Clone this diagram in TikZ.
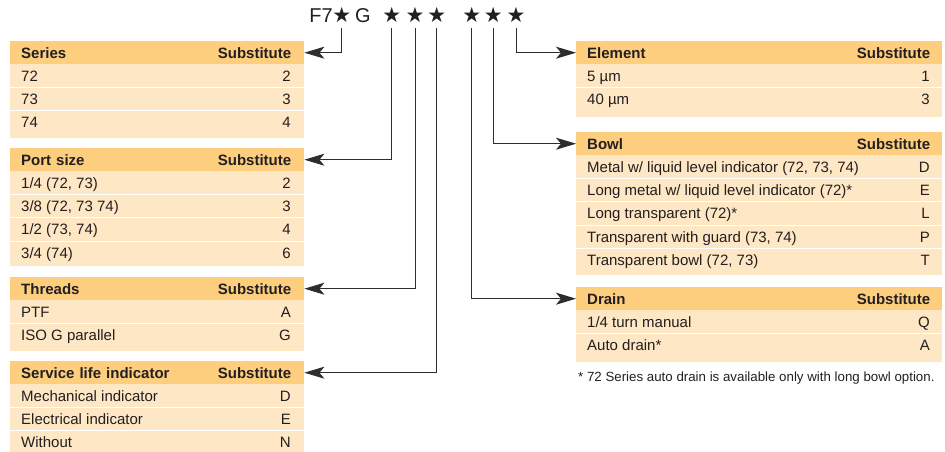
\documentclass[tikz,border=0pt]{standalone}
\usepackage{fontspec}
\setmainfont{Liberation Sans}
\newfontfamily\starfont{DejaVu Sans}
\usetikzlibrary{arrows.meta}
\definecolor{hdrorange}{RGB}{253,206,126}
\definecolor{rowcream}{RGB}{254,231,196}
\definecolor{inkgray}{RGB}{35,31,32}
\definecolor{wiregray}{RGB}{45,45,45}

\begin{document}
\begin{tikzpicture}[x=1pt,y=-1pt,
  hdr/.style={anchor=north west, fill=hdrorange, text width=#1, inner xsep=11pt, inner ysep=0pt,
    minimum height=23pt, align=left, font=\fontsize{15}{18}\selectfont\bfseries,
    text height=10.7pt, text depth=0pt, text=inkgray},
  subst/.style={anchor=east, inner sep=0pt, font=\fontsize{15}{18}\selectfont\bfseries,
    text height=10.7pt, text depth=0pt, text=inkgray},
  lbl/.style={anchor=west, inner sep=0pt, font=\fontsize{15}{18}\selectfont,
    text height=10.7pt, text depth=0pt, text=inkgray},
  val/.style={lbl, anchor=east},
  sep/.style={white, line width=1.3pt},
  conn/.style={draw=wiregray, line width=1pt, -{Stealth[length=20pt,width=12pt,inset=5pt]}},
  code/.style={anchor=base, inner sep=0pt, font=\fontsize{20}{24}\selectfont, text=inkgray},
  codestar/.style={code, font=\starfont\fontsize{21}{24}\selectfont, outer ysep=5pt}
]
\useasboundingbox (0,0) rectangle (945,452);

% order code
\node[code, anchor=base east] (fseven) at (333,23) {F7};
\node[codestar] (s1) at (341.7,23) {★};
\node[code] (gee) at (363,23) {G};
\node[codestar] (s2) at (391.7,23) {★};
\node[codestar] (s3) at (415,23) {★};
\node[codestar] (s4) at (436.7,23) {★};
\node[codestar] (s5) at (471.7,23) {★};
\node[codestar] (s6) at (493.3,23) {★};
\node[codestar] (s7) at (516,23) {★};

% Series
\fill[rowcream] (10,64) rectangle (304,138);
\foreach \y in {87.4,110.8} \draw[sep] (10,\y) -- (304,\y);
\node[hdr=272pt] (series) at (10,41) {Series};
\node[subst] (series-sub) at ([xshift=-13pt]series.east) {Substitute};
\node[lbl] (ser1) at (21,75.7) {72};   \node[val] (ser1v) at (291,75.7) {2};
\node[lbl] (ser2) at (21,99.1) {73};   \node[val] (ser2v) at (291,99.1) {3};
\node[lbl] (ser3) at (21,122.5) {74};  \node[val] (ser3v) at (291,122.5) {4};

% Port size
\fill[rowcream] (10,171) rectangle (304,266);
\foreach \y in {194.4,217.8,241.2} \draw[sep] (10,\y) -- (304,\y);
\node[hdr=272pt] (port) at (10,148) {Port size};
\node[subst] (port-sub) at ([xshift=-13pt]port.east) {Substitute};
\node[lbl] (port1) at (21,182.7) {1/4 (72, 73)};     \node[val] (port1v) at (291,182.7) {2};
\node[lbl] (port2) at (21,206.1) {3/8 (72, 73 74)};  \node[val] (port2v) at (291,206.1) {3};
\node[lbl] (port3) at (21,229.5) {1/2 (73, 74)};     \node[val] (port3v) at (291,229.5) {4};
\node[lbl] (port4) at (21,252.9) {3/4 (74)};         \node[val] (port4v) at (291,252.9) {6};

% Threads
\fill[rowcream] (10,300) rectangle (304,351);
\draw[sep] (10,323.4) -- (304,323.4);
\node[hdr=272pt] (threads) at (10,277) {Threads};
\node[subst] (threads-sub) at ([xshift=-13pt]threads.east) {Substitute};
\node[lbl] (thr1) at (21,311.7) {PTF};             \node[val] (thr1v) at (291,311.7) {A};
\node[lbl] (thr2) at (21,335.1) {ISO G parallel};  \node[val] (thr2v) at (291,335.1) {G};

% Service life indicator
\fill[rowcream] (10,384) rectangle (304,452);
\foreach \y in {407.4,430.8} \draw[sep] (10,\y) -- (304,\y);
\node[hdr=272pt] (service) at (10,361) {Service life indicator};
\node[subst] (service-sub) at ([xshift=-13pt]service.east) {Substitute};
\node[lbl] (svc1) at (21,395.7) {Mechanical indicator};  \node[val] (svc1v) at (291,395.7) {D};
\node[lbl] (svc2) at (21,419.1) {Electrical indicator};  \node[val] (svc2v) at (291,419.1) {E};
\node[lbl] (svc3) at (21,442.5) {Without};               \node[val] (svc3v) at (291,442.5) {N};

% Element
\fill[rowcream] (576,64) rectangle (942,117);
\draw[sep] (576,87.4) -- (942,87.4);
\node[hdr=344pt] (element) at (576,41) {Element};
\node[subst] (element-sub) at ([xshift=-12pt]element.east) {Substitute};
\node[lbl] (elm1) at (587,75.7) {5 µm};   \node[val] (elm1v) at (930,75.7) {1};
\node[lbl] (elm2) at (587,99.1) {40 µm};  \node[val] (elm2v) at (930,99.1) {3};

% Bowl
\fill[rowcream] (576,155) rectangle (942,275);
\foreach \y in {178.4,201.8,225.2,248.6} \draw[sep] (576,\y) -- (942,\y);
\node[hdr=344pt] (bowl) at (576,132) {Bowl};
\node[subst] (bowl-sub) at ([xshift=-12pt]bowl.east) {Substitute};
\node[lbl] (bwl1) at (587,166.7) {Metal w/ liquid level indicator (72, 73, 74)};  \node[val] (bwl1v) at (930,166.7) {D};
\node[lbl] (bwl2) at (587,190.1) {Long metal w/ liquid level indicator (72)*};    \node[val] (bwl2v) at (930,190.1) {E};
\node[lbl] (bwl3) at (587,213.5) {Long transparent (72)*};                        \node[val] (bwl3v) at (930,213.5) {L};
\node[lbl] (bwl4) at (587,236.9) {Transparent with guard (73, 74)};               \node[val] (bwl4v) at (930,236.9) {P};
\node[lbl] (bwl5) at (587,260.3) {Transparent bowl (72, 73)};                     \node[val] (bwl5v) at (930,260.3) {T};

% Drain
\fill[rowcream] (576,310) rectangle (942,362);
\draw[sep] (576,333.4) -- (942,333.4);
\node[hdr=344pt] (drain) at (576,287) {Drain};
\node[subst] (drain-sub) at ([xshift=-12pt]drain.east) {Substitute};
\node[lbl] (drn1) at (587,321.7) {1/4 turn manual};  \node[val] (drn1v) at (930,321.7) {Q};
\node[lbl] (drn2) at (587,345.1) {Auto drain*};      \node[val] (drn2v) at (930,345.1) {A};

\node[anchor=base west, inner sep=0pt, font=\fontsize{13.3}{16}\selectfont, text=inkgray] (note)
  at (578,381) {* 72 Series auto drain is available only with long bowl option.};

% connectors
\draw[conn] (s1.south) |- (series.east);
\draw[conn] (s2.south) |- (port.east);
\draw[conn] (s3.south) |- (threads.east);
\draw[conn] (s4.south) |- (service.east);
\draw[conn] (s5.south) |- (drain.west);
\draw[conn] (s6.south) |- (bowl.west);
\draw[conn] (s7.south) |- (element.west);
\end{tikzpicture}
\end{document}
